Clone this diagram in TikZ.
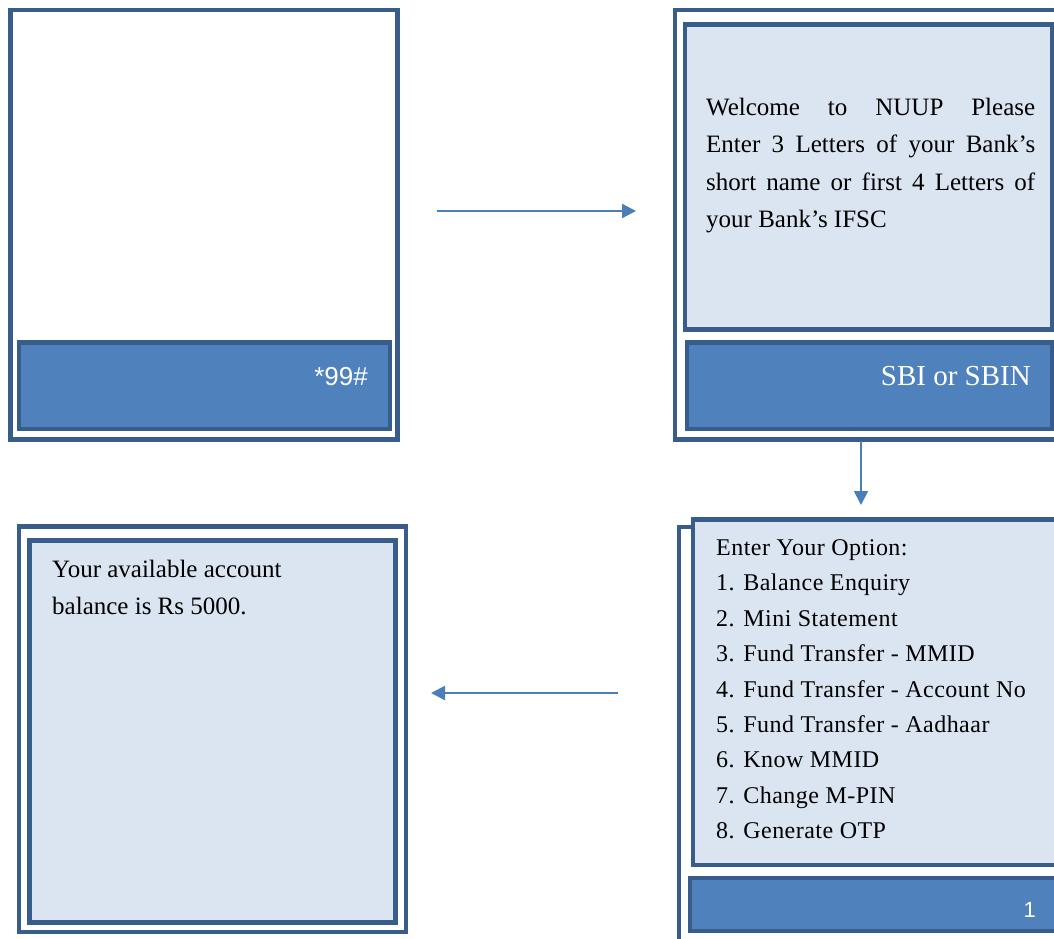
\documentclass[tikz,border=0pt]{standalone}
\usepackage{fontspec}
\setmainfont{Liberation Serif}
\newfontfamily\sansf{Liberation Sans}
\usetikzlibrary{arrows.meta}
\definecolor{edgeblue}{RGB}{56,93,138}
\definecolor{barblue}{RGB}{79,129,189}
\definecolor{lightblue}{RGB}{219,229,241}
\definecolor{arrowblue}{RGB}{74,126,187}
\tikzset{
  phoneframe/.style={draw=edgeblue, line width=4.5pt, fill=white, rectangle, inner sep=0pt},
  screenbox/.style={draw=edgeblue, line width=4.5pt, fill=lightblue, rectangle, inner sep=0pt},
  keybar/.style={draw=edgeblue, line width=4.5pt, fill=barblue, rectangle, inner sep=0pt},
  bodytxt/.style={anchor=base west, inner sep=0pt, text=black, font=\fontsize{25}{30}\selectfont},
  menutxt/.style={anchor=base west, inner sep=0pt, text=black, font=\addfontfeatures{LetterSpace=2}\fontsize{24}{30}\selectfont},
  keytxt/.style={anchor=base east, inner sep=0pt, text=white},
  flow/.style={draw=arrowblue, line width=2.2pt, -{Triangle[length=14pt,width=14pt]}}
}
\begin{document}
\begin{tikzpicture}[x=1pt,y=-1pt]
\useasboundingbox (0,0) rectangle (1054,938);
\clip (0,0) rectangle (1054,938);
\fill[white] (0,0) rectangle (1054,938);

% Screen 1
\node[phoneframe, minimum width=387pt, minimum height=429.5pt] (o1) at (204,224.75) {};
\node[keybar, minimum width=371pt, minimum height=86.5pt] (k1) at (204.5,385.75) {};
\node[keytxt, font=\sansf\fontsize{26}{30}\selectfont] (k1t) at (368,385) {*99\#};

% Screen 2
\node[phoneframe, minimum width=395pt, minimum height=429.5pt] (o2) at (872.5,224.75) {};
\node[screenbox, minimum width=367pt, minimum height=305pt] (s2) at (868.5,177) {};
\node[keybar, minimum width=365pt, minimum height=86.5pt] (k2) at (869.5,385.75) {};
\node[bodytxt] (w1) at (706,115) {\makebox[329pt][s]{Welcome to NUUP Please}};
\node[bodytxt] (w2) at (706,152.5) {\makebox[329pt][s]{Enter 3 Letters of your Bank’s}};
\node[bodytxt] (w3) at (706,190) {\makebox[329pt][s]{short name or first 4 Letters of}};
\node[bodytxt] (w4) at (706,227) {your Bank’s IFSC};
\node[keytxt, font=\fontsize{29}{34}\selectfont] (k2t) at (1031,385) {SBI or SBIN};

% Screen 3
\node[phoneframe, minimum width=391pt, minimum height=433pt] (o3) at (874.5,743.5) {};
\node[screenbox, minimum width=369pt, minimum height=345.5pt] (s3) at (877.5,692.25) {};
\node[keybar, minimum width=372pt, minimum height=53pt] (k3) at (876,904.5) {};
\node[menutxt] (m0) at (716,555) {Enter Your Option:};
\node[menutxt] (m1) at (716,590.5) {1. Balance Enquiry};
\node[menutxt] (m2) at (716,626) {2. Mini Statement};
\node[menutxt] (m3) at (716,661.5) {3. Fund Transfer - MMID};
\node[menutxt] (m4) at (716,697) {4. Fund Transfer - Account No};
\node[menutxt] (m5) at (716,732) {5. Fund Transfer - Aadhaar};
\node[menutxt] (m6) at (716,767.5) {6. Know MMID};
\node[menutxt] (m7) at (716,803) {7. Change M-PIN};
\node[menutxt] (m8) at (716,838) {8. Generate OTP};
\node[keytxt, font=\sansf\fontsize{22}{26}\selectfont] (k3t) at (1036,917) {1};

% Screen 4
\node[phoneframe, minimum width=387pt, minimum height=405.5pt] (o4) at (212.5,729.25) {};
\node[screenbox, minimum width=366pt, minimum height=382pt] (s4) at (212.5,731.5) {};
\node[bodytxt] (r1) at (52,577) {Your available account};
\node[bodytxt] (r2) at (52,614.5) {balance is Rs 5000.};

% Arrows
\coordinate (a1s) at (437,211);
\coordinate (a1e) at (636,211);
\coordinate (a2s) at (861,441);
\coordinate (a2e) at (861,505);
\coordinate (a3s) at (618,693);
\coordinate (a3e) at (431,693);
\draw[flow] (a1s) -- (a1e);
\draw[flow, line width=1.8pt] (a2s) -- (a2e);
\draw[flow] (a3s) -- (a3e);
\end{tikzpicture}
\end{document}
